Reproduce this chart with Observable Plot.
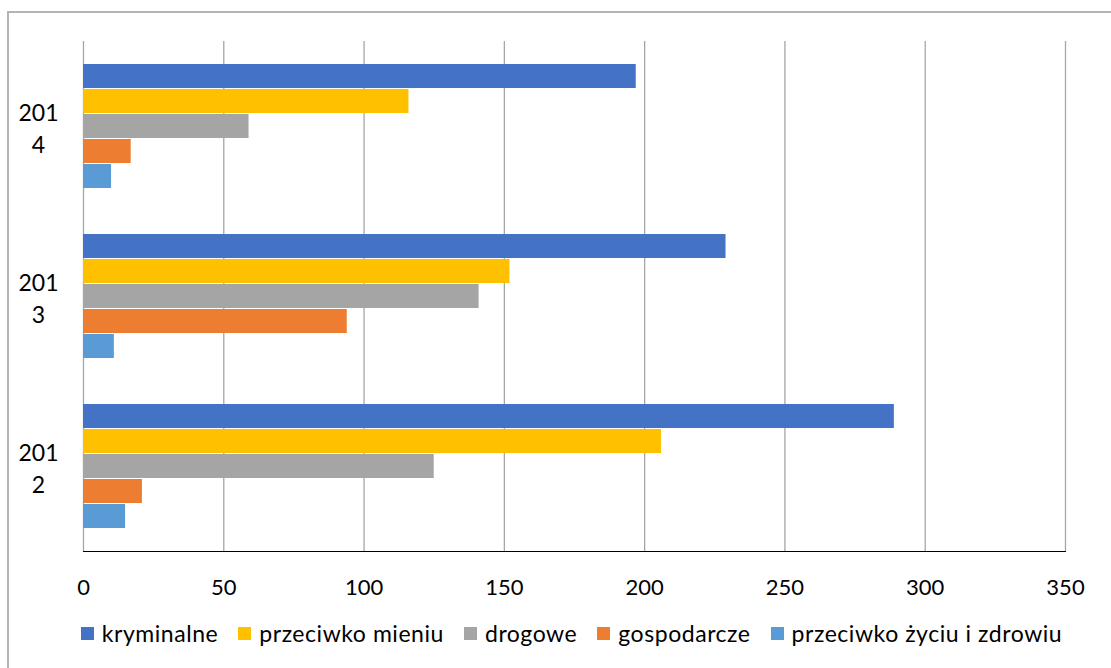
<!DOCTYPE html>
<html>
<head>
<meta charset="utf-8">
<script src="https://cdn.jsdelivr.net/npm/d3@7"></script>
<script src="https://cdn.jsdelivr.net/npm/@observablehq/plot@0.6"></script>
<style>
  body { margin: 0; background: #fff; font-family: Lato, "Open Sans", sans-serif; }
  #wrap { position: relative; width: 1111px; height: 668px; overflow: hidden; background: #fff; }
  #border { position: absolute; left: 7px; top: 11px; width: 1200px; height: 800px; border: 2px solid #b4b4b4; box-sizing: border-box; }
  #chart { position: absolute; left: 0; top: 0; }
  #legend { position: absolute; left: 0; top: 619px; width: 1111px; display: flex; justify-content: center; align-items: center; font-size: 23px; letter-spacing: 0.55px; color: #000; padding-left: 32px; box-sizing: border-box; }
  .item { display: flex; align-items: center; margin: 0 10px; white-space: nowrap; }
  .sw { width: 13px; height: 13px; margin-right: 8px; }
</style>
</head>
<body>
<div id="wrap">
  <div id="border"></div>
  <div id="chart"></div>
  <div id="legend"></div>
</div>
<script>
const years = ["2014", "2013", "2012"];
const categories = ["kryminalne", "przeciwko mieniu", "drogowe", "gospodarcze", "przeciwko życiu i zdrowiu"];
const colors = ["#4472C4", "#FFC000", "#A5A5A5", "#ED7D31", "#5B9BD5"];
// values in order of years: 2014, 2013, 2012
const kryminalne = [197, 229, 289];
const przeciwkoMieniu = [116, 152, 206];
const drogowe = [59, 141, 125];
const gospodarcze = [17, 94, 21];
const przeciwkoZyciu = [10, 11, 15];
const xTicks = [0, 50, 100, 150, 200, 250, 300, 350];

const series = [kryminalne, przeciwkoMieniu, drogowe, gospodarcze, przeciwkoZyciu];
const rows = years.flatMap((yr, i) => categories.map((c, k) => ({year: yr, category: c, value: series[k][i]})));

const chart = Plot.plot({
  width: 1111,
  height: 610,
  marginTop: 41,
  marginBottom: 59,
  marginLeft: 83,
  marginRight: 46,
  style: {fontFamily: "Lato, 'Open Sans', sans-serif", fontSize: "22px", color: "#000", background: "transparent"},
  x: {domain: [0, 350], ticks: xTicks, tickSize: 0, tickPadding: 28, label: null, line: true},
  y: {domain: categories, axis: null, paddingInner: 0.04, paddingOuter: 0.9},
  fy: {domain: years, axis: null, padding: 0},
  color: {domain: categories, range: colors},
  marks: [
    Plot.gridX(xTicks, {stroke: "#a6a6a6", strokeOpacity: 1, strokeWidth: 1.3}),
    Plot.barX(rows, {x: "value", y: "category", fy: "year", fill: "category"}),
    Plot.text(years, {fy: d => d, frameAnchor: "left", textAnchor: "middle", dx: -45, text: d => d.slice(0, 3) + "\n" + d.slice(3), lineHeight: 1.38, fontSize: 23, fill: "#000"})
  ]
});
document.getElementById("chart").appendChild(chart);

const legend = document.getElementById("legend");
categories.forEach((c, k) => {
  const it = document.createElement("div");
  it.className = "item";
  const sw = document.createElement("span");
  sw.className = "sw";
  sw.style.background = colors[k];
  const t = document.createElement("span");
  t.textContent = c;
  it.appendChild(sw);
  it.appendChild(t);
  legend.appendChild(it);
});
</script>
</body>
</html>
